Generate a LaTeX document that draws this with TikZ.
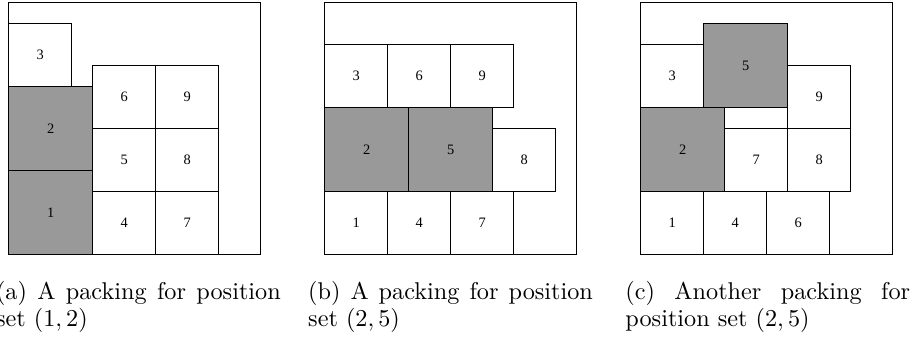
\documentclass[tikz,border=0pt]{standalone}
\usepackage{fontspec}
\newfontfamily\boxfont{Liberation Serif}
\newcommand\capsettings{\hyphenpenalty=10000\relax\tolerance=9999\relax}
\tikzset{
  pk/.style={draw, line width=0.5pt, inner sep=0pt, anchor=south west,
    font=\boxfont\fontsize{6.5}{7.5}\selectfont},
  sq/.style={pk, fill=white, minimum width=1cm, minimum height=1cm},
  bigw/.style={pk, fill=white, minimum width=1.3333cm, minimum height=1.3333cm},
  bigg/.style={pk, fill=black!40, minimum width=1.3333cm, minimum height=1.3333cm},
  frm/.style={draw, line width=0.5pt, minimum width=4cm, minimum height=4cm,
    inner sep=0pt, anchor=south west},
  captxt/.style={anchor=base west, text width=4.52cm, align=justify, inner sep=0pt,
    font=\fontsize{10.95}{12.2}\selectfont\capsettings}
}
\begin{document}
\begin{tikzpicture}
\useasboundingbox (0,0) rectangle (14.476,5.349);
% panel (a)
\begin{scope}[shift={(0.13,1.30)}]
  \node[frm] (fa) at (0,0) {};
  \node[bigg] (a1) at (0,0) {1};
  \node[bigg] (a2) at (0,1.3333) {2};
  \node[sq] (a3) at (0,2.6667) {3};
  \node[sq] (a4) at (1.3333,0) {4};
  \node[sq] (a5) at (1.3333,1) {5};
  \node[sq] (a6) at (1.3333,2) {6};
  \node[sq] (a7) at (2.3333,0) {7};
  \node[sq] (a8) at (2.3333,1) {8};
  \node[sq] (a9) at (2.3333,2) {9};
\end{scope}
% panel (b)
\begin{scope}[shift={(5.145,1.30)}]
  \node[frm] (fb) at (0,0) {};
  \node[sq] (b1) at (0,0) {1};
  \node[sq] (b4) at (1,0) {4};
  \node[sq] (b7) at (2,0) {7};
  \node[bigg] (b2) at (0,1) {2};
  \node[bigg] (b5) at (1.3333,1) {5};
  \node[sq] (b8) at (2.6667,1) {8};
  \node[sq] (b3) at (0,2.3333) {3};
  \node[sq] (b6) at (1,2.3333) {6};
  \node[sq] (b9) at (2,2.3333) {9};
\end{scope}
% panel (c)
\begin{scope}[shift={(10.16,1.30)}]
  \node[frm] (fc) at (0,0) {};
  \node[sq] (c1) at (0,0) {1};
  \node[sq] (c4) at (1,0) {4};
  \node[sq] (c6) at (2,0) {6};
  \node[bigg] (c2) at (0,1) {2};
  \node[sq] (c7) at (1.3333,1) {7};
  \node[sq] (c8) at (2.3333,1) {8};
  \node[sq] (c9) at (2.3333,2) {9};
  \node[sq] (c3) at (0,2.3333) {3};
  \node[bigg] (c5) at (1,2.3333) {5};
\end{scope}
% captions
\node[captxt] (capa) at (-0.07,0.603) {(a) A packing for position set $(1,2)$};
\node[captxt] (capb) at (4.885,0.603) {(b) A packing for position set $(2,5)$};
\node[captxt] (capc) at (9.92,0.603) {(c) Another packing for position set $(2,5)$};
\end{tikzpicture}
\end{document}
